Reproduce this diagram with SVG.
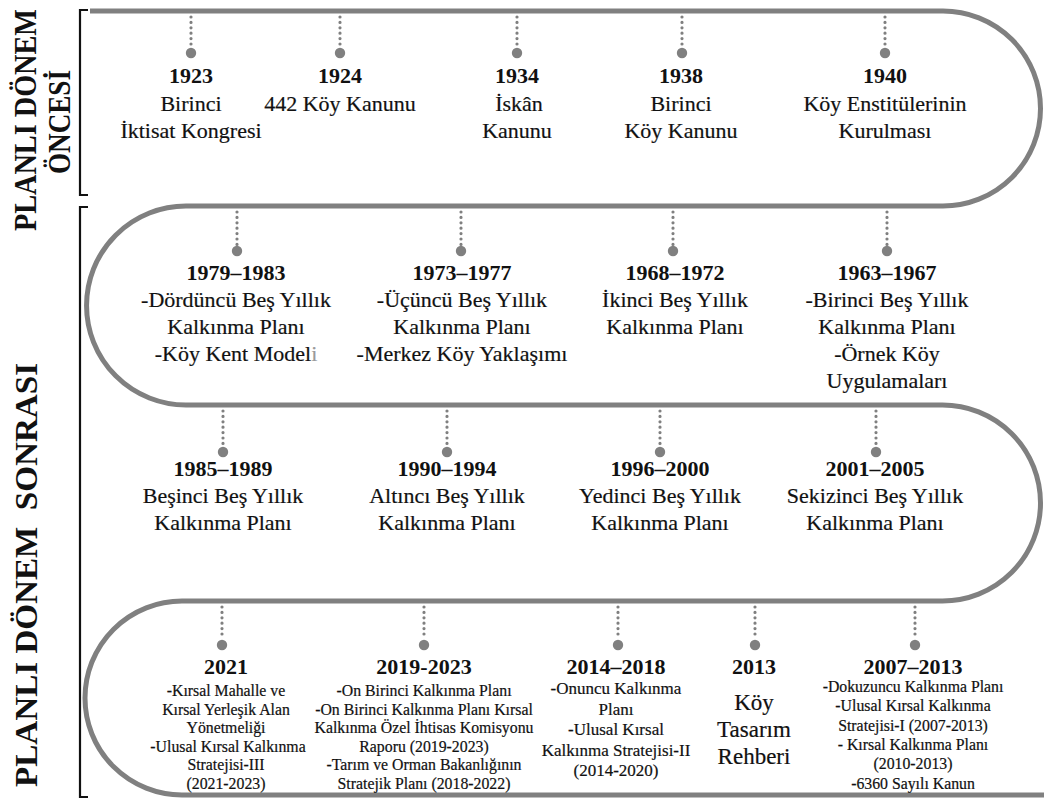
<svg xmlns="http://www.w3.org/2000/svg" width="1044" height="800" viewBox="0 0 1044 800">
<style>
.track{fill:none;stroke:#808080;stroke-width:5}
.bracket{fill:none;stroke:#111;stroke-width:2.2}
.stem{stroke:#808080;stroke-width:3.2;stroke-linecap:round;stroke-dasharray:0 5.4;fill:none}
.pin{fill:#808080}
.side{font-family:"Liberation Serif","Times New Roman",serif;font-weight:bold;fill:#111;text-anchor:middle;white-space:pre}
.yr{font-family:"Liberation Serif","Times New Roman",serif;font-weight:bold;font-size:22px;fill:#111;text-anchor:middle}
.d,.s,.s2,.m{font-family:"Liberation Serif","Times New Roman",serif;fill:#111;stroke:#111;stroke-width:0.2;text-anchor:middle}
.d{font-size:22px}
.s{font-size:15.8px}
.s2{font-size:17px}
.m{font-size:23px}
</style>
<rect width="1044" height="800" fill="#fff"/>
<g id="side-labels">
  <path class="bracket" d="M88,10 H80 V195 H88"/>
  <path class="bracket" d="M88,207 H80 V797 H88"/>
  <text class="side" font-size="31" transform="translate(36,120) rotate(-90)" textLength="222" lengthAdjust="spacingAndGlyphs">PLANLI DÖNEM</text>
  <text class="side" font-size="31" transform="translate(70,122) rotate(-90)" textLength="104" lengthAdjust="spacingAndGlyphs">ÖNCESİ</text>
  <text class="side" font-size="32" transform="translate(37,575) rotate(-90)" textLength="424" lengthAdjust="spacingAndGlyphs">PLANLI DÖNEM  SONRASI</text>
</g>
<g id="timeline">
  <path class="track" d="M90,11 H943 A97.5,97.5 0 0 1 943,206 H186 A99.5,99.5 0 0 0 186,405 H942.5 A98,98 0 0 1 942.5,601 H182 A97,97 0 0 0 182,795 H1044"/>
</g>
<g id="connectors">
  <path class="stem" d="M191,17 V47 M340,17 V47 M517,17 V47 M682,17 V47 M885,17 V47"/>
  <path class="stem" d="M237,212 V245 M461,212 V245 M673,212 V245 M887,212 V245"/>
  <path class="stem" d="M223,411 V446 M447,411 V446 M660,411 V446 M876,411 V446"/>
  <path class="stem" d="M222,607 V638 M424,607 V638 M618,607 V638 M755,607 V638 M915,607 V638"/>
  <g class="pin">
    <circle cx="191" cy="53" r="5.2"/><circle cx="340" cy="53" r="5.2"/><circle cx="517" cy="53" r="5.2"/><circle cx="682" cy="53" r="5.2"/><circle cx="885" cy="53" r="5.2"/>
    <circle cx="237" cy="251" r="5.2"/><circle cx="461" cy="251" r="5.2"/><circle cx="673" cy="251" r="5.2"/><circle cx="887" cy="251" r="5.2"/>
    <circle cx="223" cy="452" r="5.2"/><circle cx="447" cy="452" r="5.2"/><circle cx="660" cy="452" r="5.2"/><circle cx="876" cy="452" r="5.2"/>
    <circle cx="222" cy="645" r="5.2"/><circle cx="424" cy="645" r="5.2"/><circle cx="618" cy="645" r="5.2"/><circle cx="755" cy="645" r="5.2"/><circle cx="915" cy="645" r="5.2"/>
  </g>
</g>
<g id="e1923"><text class="yr" x="191" y="83">1923</text><text class="d" x="191" y="111">Birinci</text><text class="d" x="191" y="138">İktisat Kongresi</text></g>
<g id="e1924"><text class="yr" x="340" y="83">1924</text><text class="d" x="340" y="111">442 Köy Kanunu</text></g>
<g id="e1934"><text class="yr" x="517" y="83">1934</text><text class="d" x="519" y="111">İskân</text><text class="d" x="517" y="138">Kanunu</text></g>
<g id="e1938"><text class="yr" x="681" y="83">1938</text><text class="d" x="681" y="111">Birinci</text><text class="d" x="681" y="138">Köy Kanunu</text></g>
<g id="e1940"><text class="yr" x="885" y="83">1940</text><text class="d" x="885" y="111">Köy Enstitülerinin</text><text class="d" x="885" y="138">Kurulması</text></g>

<g id="e1979"><text class="yr" x="236" y="280">1979–1983</text><text class="d" x="236" y="307">-Dördüncü Beş Yıllık</text><text class="d" x="236" y="334">Kalkınma Planı</text><text class="d" x="236" y="361">-Köy Kent Model<tspan fill="#9a9a9a" stroke="#9a9a9a">i</tspan></text></g>
<g id="e1973"><text class="yr" x="462" y="280">1973–1977</text><text class="d" x="462" y="307">-Üçüncü Beş Yıllık</text><text class="d" x="462" y="334">Kalkınma Planı</text><text class="d" x="462" y="361">-Merkez Köy Yaklaşımı</text></g>
<g id="e1968"><text class="yr" x="675" y="280">1968–1972</text><text class="d" x="675" y="307">İkinci Beş Yıllık</text><text class="d" x="675" y="334">Kalkınma Planı</text></g>
<g id="e1963"><text class="yr" x="887" y="280">1963–1967</text><text class="d" x="887" y="307">-Birinci Beş Yıllık</text><text class="d" x="887" y="334">Kalkınma Planı</text><text class="d" x="887" y="361">-Örnek Köy</text><text class="d" x="887" y="388">Uygulamaları</text></g>

<g id="e1985"><text class="yr" x="223" y="476">1985–1989</text><text class="d" x="223" y="503">Beşinci Beş Yıllık</text><text class="d" x="223" y="530">Kalkınma Planı</text></g>
<g id="e1990"><text class="yr" x="447" y="476">1990–1994</text><text class="d" x="447" y="503">Altıncı Beş Yıllık</text><text class="d" x="447" y="530">Kalkınma Planı</text></g>
<g id="e1996"><text class="yr" x="660" y="476">1996–2000</text><text class="d" x="660" y="503">Yedinci Beş Yıllık</text><text class="d" x="660" y="530">Kalkınma Planı</text></g>
<g id="e2001"><text class="yr" x="875" y="476">2001–2005</text><text class="d" x="875" y="503">Sekizinci Beş Yıllık</text><text class="d" x="875" y="530">Kalkınma Planı</text></g>

<g id="e2021"><text class="yr" x="226" y="674">2021</text>
  <text class="s" x="226" y="696">-Kırsal Mahalle ve</text><text class="s" x="226" y="714.5">Kırsal Yerleşik Alan</text><text class="s" x="226" y="733">Yönetmeliği</text><text class="s" x="228" y="751.5">-Ulusal Kırsal Kalkınma</text><text class="s" x="226" y="770">Stratejisi-III</text><text class="s" x="226" y="788.5">(2021-2023)</text></g>
<g id="e2019"><text class="yr" x="424" y="674">2019-2023</text>
  <text class="s" x="424" y="696">-On Birinci Kalkınma Planı</text><text class="s" x="424" y="714.5">-On Birinci Kalkınma Planı Kırsal</text><text class="s" x="424" y="733">Kalkınma Özel İhtisas Komisyonu</text><text class="s" x="424" y="751.5">Raporu (2019-2023)</text><text class="s" x="424" y="770">-Tarım ve Orman Bakanlığının</text><text class="s" x="424" y="788.5">Stratejik Planı (2018-2022)</text></g>
<g id="e2014"><text class="yr" x="616" y="674">2014–2018</text>
  <text class="s2" x="616" y="694">-Onuncu Kalkınma</text><text class="s2" x="616" y="714.5">Planı</text><text class="s2" x="616" y="735">-Ulusal Kırsal</text><text class="s2" x="616" y="755.5">Kalkınma Stratejisi-II</text><text class="s2" x="616" y="776">(2014-2020)</text></g>
<g id="e2013"><text class="yr" x="754" y="674">2013</text>
  <text class="m" x="754" y="710">Köy</text><text class="m" x="754" y="737">Tasarım</text><text class="m" x="754" y="764">Rehberi</text></g>
<g id="e2007"><text class="yr" x="913" y="674">2007–2013</text>
  <text class="s" x="913" y="692">-Dokuzuncu Kalkınma Planı</text><text class="s" x="913" y="711.3">-Ulusal Kırsal Kalkınma</text><text class="s" x="913" y="730.6">Stratejisi-I (2007-2013)</text><text class="s" x="913" y="749.9">- Kırsal Kalkınma Planı</text><text class="s" x="913" y="769.2">(2010-2013)</text><text class="s" x="913" y="788.5">-6360 Sayılı Kanun</text></g>
</svg>
